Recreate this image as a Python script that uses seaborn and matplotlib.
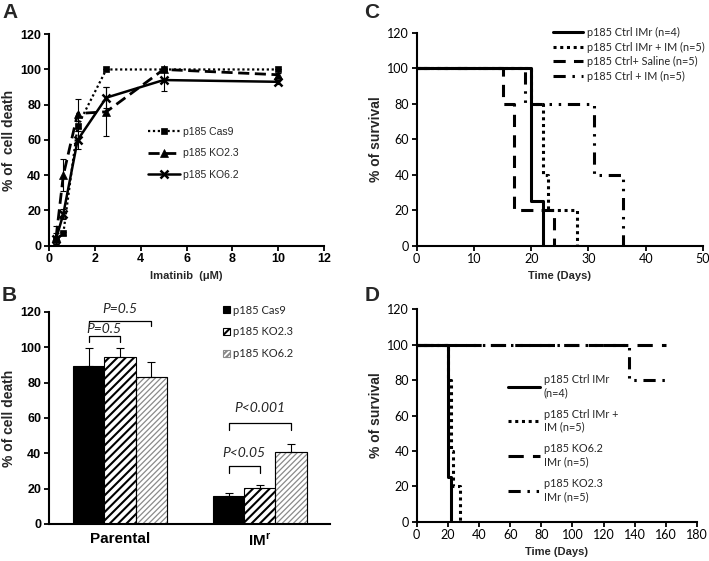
import numpy as np
import pandas as pd
import matplotlib
matplotlib.use('Agg')
import matplotlib.pyplot as plt
from matplotlib.patches import Rectangle
import seaborn as sns

# ---- panel A: dose response ----
conc = [0.3125, 0.625, 1.25, 2.5, 5, 10]
cas9_death = [3, 7, 68, 100, 100, 100]
cas9_sd = [2, 1, 3, 0, 0, 0]
ko23_death = [5, 40, 75, 76, 100, 97]
ko23_sd = [6, 9, 8, 14, 1, 1]
ko62_death = [4, 18, 60, 84, 94, 93]
ko62_sd = [3, 3, 5, 6, 6, 1]
a_labels = ['p185 Cas9', 'p185 KO2.3', 'p185 KO6.2']

# ---- panel B: bars ----
groups = ['Parental', 'IMr']
strains = ['p185 Cas9', 'p185 KO2.3', 'p185 KO6.2']
cas9_bar = [89.5, 16.0]
cas9_bar_sd = [10.0, 1.5]
ko23_bar = [94.5, 20.5]
ko23_bar_sd = [5.0, 1.5]
ko62_bar = [83.0, 40.5]
ko62_bar_sd = [8.5, 4.5]
pvals = ['P=0.5', 'P=0.5', 'P<0.001', 'P<0.05']

# ---- panel C: survival ----
c_labels = ['p185 Ctrl IMr (n=4)', 'p185 Ctrl IMr + IM (n=5)',
            'p185 Ctrl+ Saline (n=5)', 'p185 Ctrl + IM (n=5)']
c_imr_t = [0, 20, 22]
c_imr_s = [100, 25, 0]
c_imr_im_t = [0, 20, 22, 23, 28]
c_imr_im_s = [100, 80, 40, 20, 0]
c_saline_t = [0, 15, 17, 24]
c_saline_s = [100, 80, 20, 0]
c_im_t = [0, 19, 31, 36]
c_im_s = [100, 80, 40, 0]

# ---- panel D: survival ----
d_labels = ['p185 Ctrl IMr\n(n=4)', 'p185 Ctrl IMr +\nIM (n=5)',
            'p185 KO6.2\nIMr (n=5)', 'p185 KO2.3\nIMr (n=5)']
d_imr_t = [0, 20, 22]
d_imr_s = [100, 25, 0]
d_imr_im_t = [0, 20, 22, 23, 28]
d_imr_im_s = [100, 80, 40, 20, 0]
d_ko62_t = [0, 160]
d_ko62_s = [100, 100]
d_ko23_t = [0, 136, 160]
d_ko23_s = [100, 80, 80]

sns.set_theme(style='ticks')
plt.rcParams['font.family'] = ['Liberation Sans', 'DejaVu Sans']
plt.rcParams['mathtext.fontset'] = 'custom'
plt.rcParams['mathtext.rm'] = 'Liberation Sans'
plt.rcParams['mathtext.bf'] = 'Liberation Sans:bold'
plt.rcParams['hatch.linewidth'] = 1.5

fig = plt.figure(figsize=(7.09, 5.61), dpi=100)
axA = fig.add_axes([0.0691, 0.562, 0.388, 0.377])
axB = fig.add_axes([0.0691, 0.066, 0.396, 0.378])
axC = fig.add_axes([0.5877, 0.562, 0.4038, 0.380])
axD = fig.add_axes([0.5877, 0.070, 0.3955, 0.3786])

calibri = 'Lato'


def style_axes(ax, bold_ticks, fam, size):
    for s in ['top', 'right']:
        ax.spines[s].set_visible(False)
    for s in ['left', 'bottom']:
        ax.spines[s].set_linewidth(1.5)
        ax.spines[s].set_color('black')
    ax.tick_params(direction='out', length=3.5, width=1.3, colors='black',
                   labelsize=size, pad=2)
    for lab in ax.get_xticklabels() + ax.get_yticklabels():
        lab.set_family(fam)
        if bold_ticks:
            lab.set_fontweight('bold')


# ---------------- A ----------------
a_series = [(cas9_death, cas9_sd, 's', (0, (1, 1.2)), 1.6, 5),
            (ko23_death, ko23_sd, '^', (0, (4, 2)), 2.0, 6),
            (ko62_death, ko62_sd, 'x', '-', 1.8, 6)]
for (vals, sd, mk, ls, lw, ms), lab in zip(a_series, a_labels):
    axA.errorbar(conc, vals, yerr=sd, fmt='none', ecolor='black', elinewidth=0.8,
                 capsize=2.5, capthick=0.8)
    sns.lineplot(x=conc, y=vals, ax=axA, color='black', linestyle=ls, linewidth=lw,
                 marker=mk, markersize=ms, markeredgewidth=1.8 if mk == 'x' else 0.5,
                 markeredgecolor='black', label=lab)
axA.set_xlim(0, 12)
axA.set_ylim(0, 120)
axA.set_xticks(range(0, 13, 2))
axA.set_yticks(range(0, 121, 20))
axA.set_xlabel('Imatinib  (\u03bcM)', fontsize=8, fontweight='bold', labelpad=4)
axA.set_ylabel('% of  cell death', fontsize=10, fontweight='bold', labelpad=3)
style_axes(axA, True, 'Liberation Sans', 9)
axA.legend(loc='upper left', bbox_to_anchor=(0.209, 0.774), bbox_transform=fig.transFigure,
           frameon=False, fontsize=7.5, handlelength=3.1, handletextpad=0.2,
           labelspacing=1.1, borderpad=0, borderaxespad=0)

# ---------------- B ----------------
bar_df = pd.DataFrame({
    'group': groups * 3,
    'strain': np.repeat(strains, 2),
    'death': cas9_bar + ko23_bar + ko62_bar,
})
sns.barplot(data=bar_df, x='group', y='death', hue='strain', order=groups,
            hue_order=strains, palette=['black', 'white', 'white'], edgecolor='black',
            linewidth=0.8, width=0.67, errorbar=None, legend=False, ax=axB)
bar_conts = list(axB.containers)
bar_sds = [cas9_bar_sd, ko23_bar_sd, ko62_bar_sd]
centers = []
for i, cont in enumerate(bar_conts):
    xs = [p.get_x() + p.get_width() / 2 for p in cont.patches]
    centers.append(xs)
    hs = [p.get_height() for p in cont.patches]
    axB.errorbar(xs, hs, yerr=[[0] * len(hs), bar_sds[i]], fmt='none', ecolor='black',
                 elinewidth=0.8, capsize=3, capthick=0.8)
    for p in cont.patches:
        if i == 1:
            p.set_hatch('////')
        elif i == 2:
            p.set_edgecolor('#8a8a8a')
            p.set_hatch('//////')
            if hasattr(p, 'set_hatch_linewidth'):
                p.set_hatch_linewidth(0.9)
            axB.add_patch(Rectangle(p.get_xy(), p.get_width(), p.get_height(),
                                    fill=False, edgecolor='black', linewidth=0.8, zorder=3))
axB.set_xlim(-0.507, 1.5)
axB.set_ylim(0, 120)
axB.set_yticks(range(0, 121, 20))
axB.set_xlabel('')
axB.set_ylabel('% of cell death', fontsize=10, fontweight='bold', labelpad=3)
style_axes(axB, True, 'Liberation Sans', 9)
axB.tick_params(axis='x', length=0, pad=6)
axB.set_xticks([0, 1])
axB.set_xticklabels(['Parental', 'IM$^{\\mathbf{r}}$'], fontsize=11, fontweight='bold')

brackets = [(centers[0][0], centers[2][0], 112, 115, 121.5),
            (centers[0][0], centers[1][0], 103, 106.5, 110.3),
            (centers[0][1], centers[2][1], 53, 57, 65.5),
            (centers[0][1], centers[1][1], 29, 33, 40)]
for (x0, x1, ylo, yhi, ytxt), txt in zip(brackets, pvals):
    axB.plot([x0, x0, x1, x1], [ylo, yhi, yhi, ylo], color='black', lw=0.9)
    axB.text((x0 + x1) / 2, ytxt, txt, ha='center', va='center', fontsize=10,
             style='italic', family=calibri)
axB.legend(handles=[c.patches[0] for c in bar_conts], labels=strains,
           loc='upper left', bbox_to_anchor=(0.314, 0.457), bbox_transform=fig.transFigure,
           frameon=False, prop={'family': calibri, 'size': 8}, handlelength=0.65,
           handleheight=0.65, handletextpad=0.3, labelspacing=0.97, borderpad=0,
           borderaxespad=0)

# ---------------- C & D ----------------
lw = 2.2
styles = ['-', (0, (1, 1.2)), (0, (4, 2.7)), (0, (4, 2.2, 0.8, 2.2, 0.8, 2.2))]
c_data = [(c_imr_t, c_imr_s), (c_imr_im_t, c_imr_im_s),
          (c_saline_t, c_saline_s), (c_im_t, c_im_s)]
for (t, s), ls, lab in zip(c_data, styles, c_labels):
    sns.lineplot(x=t, y=s, ax=axC, color='black', linestyle=ls, linewidth=lw,
                 drawstyle='steps-post', estimator=None, label=lab)

d_styles = ['-', (0, (1, 1.2)), (0, (5, 3)), (0, (4, 2.2, 0.8, 2.2, 0.8, 2.2))]
d_order = [1, 2, 4, 3]
d_data = [(d_imr_t, d_imr_s), (d_imr_im_t, d_imr_im_s),
          (d_ko62_t, d_ko62_s), (d_ko23_t, d_ko23_s)]
for (t, s), ls, lab, z in zip(d_data, d_styles, d_labels, d_order):
    sns.lineplot(x=t, y=s, ax=axD, color='black', linestyle=ls, linewidth=lw,
                 drawstyle='steps-post', estimator=None, label=lab, zorder=z + 1)

for ax, xmax, xstep in [(axC, 50, 10), (axD, 180, 20)]:
    ax.set_xlim(0, xmax)
    ax.set_ylim(0, 120)
    ax.set_xticks(range(0, xmax + 1, xstep))
    ax.set_yticks(range(0, 121, 20))
    ax.set_xlabel('Time (Days)', fontsize=8, fontweight='bold', labelpad=4)
    ax.set_ylabel('% of survival', fontsize=10, fontweight='bold', labelpad=3)
    style_axes(ax, False, calibri, 9)

axC.legend(loc='upper left', bbox_to_anchor=(0.780, 0.952), bbox_transform=fig.transFigure,
           frameon=False, prop={'family': calibri, 'size': 7.8}, handlelength=2.8,
           handletextpad=0.3, labelspacing=0.33, borderpad=0, borderaxespad=0)
axD.legend(loc='upper left', bbox_to_anchor=(0.7165, 0.333), bbox_transform=fig.transFigure,
           frameon=False, prop={'family': calibri, 'size': 7.8}, handlelength=3.0,
           handletextpad=0.3, labelspacing=1.0, borderpad=0, borderaxespad=0)

for x, y, letter in [(0.003, 0.978, 'A'), (0.002, 0.474, 'B'),
                     (0.514, 0.978, 'C'), (0.514, 0.474, 'D')]:
    fig.text(x, y, letter, fontsize=15, fontweight='bold', va='center', ha='left')

fig.savefig('out.png', dpi=100)
